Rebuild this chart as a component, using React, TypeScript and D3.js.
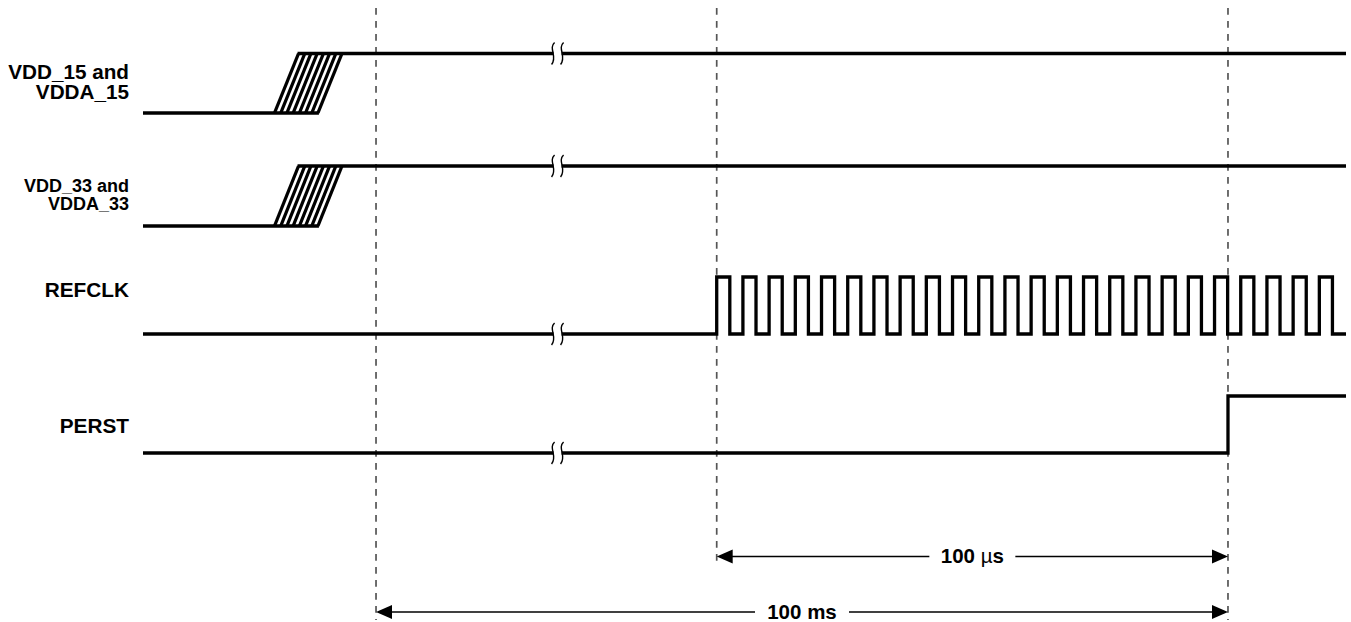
import React from 'react';
import * as d3 from 'd3';

// timing data (time axis in % of the drawing width)
const signalNames = ['VDD_15', 'VDD_33', 'REFCLK', 'PERST'];
const signalLabels = [['VDD_15 and', 'VDDA_15'], ['VDD_33 and', 'VDDA_33'], ['REFCLK'], ['PERST']];
const rampStripes = [10.93, 11.45, 11.96, 12.48, 13.0, 13.51, 14.03, 14.54];
const rampSlant = 2.0;
const markerTimes = [19.37, 47.69, 90.19];
const breakTime = 34.46;
const clockStart = 47.69;
const clockPeriod = 2.178;
const clockPulses = 24;
const perstRise = 90.19;
const spanFrom = [1, 0];
const spanTo = [2, 2];
const spanValues = ['100', '100'];
const spanUnits = ['µs', 'ms'];

const W = 1351;
const H = 622;
const FONT = "'Liberation Sans', Arial, Helvetica, sans-serif";

// layout per row: low level y, high level y, label baselines, font size
const rows = [
  { low: 113, high: 53.5, label: [78.5, 98.5], size: 20.7, breakOn: 'high' },
  { low: 226, high: 166, label: [191.5, 210], size: 18, breakOn: 'high' },
  { low: 334, high: 277, label: [296.5], size: 20.8, breakOn: 'low' },
  { low: 453, high: 396, label: [432.5], size: 20.8, breakOn: 'low' },
];
const markerBottoms = [620, 567, 620];
const spanY = [556.5, 612];

export default function App() {
  const x = d3.scaleLinear().domain([0, 100]).range([143, 1346]);
  const line = d3.line<[number, number]>();

  const levelY = (r: number) => d3.scaleLinear().domain([0, 1]).range([rows[r].low, rows[r].high]);

  const paths: { d: string; w: number }[] = [];

  // power rails with hatched ramps
  [0, 1].forEach((r) => {
    const y = levelY(r);
    const last = rampStripes[rampStripes.length - 1];
    paths.push({ d: line([[x(0), y(0)], [x(last) + 1, y(0)]])!, w: 3.3 });
    paths.push({ d: line([[x(rampStripes[0] + rampSlant) - 1, y(1)], [x(100), y(1)]])!, w: 3.3 });
    rampStripes.forEach((s) => {
      paths.push({ d: line([[x(s), y(0)], [x(s + rampSlant), y(1)]])!, w: 3.3 });
    });
  });

  // REFCLK
  {
    const y = levelY(2);
    const pts: [number, number][] = [[x(0), y(0)]];
    for (let i = 0; i < clockPulses; i++) {
      const t0 = clockStart + i * clockPeriod;
      const t1 = t0 + clockPeriod / 2;
      pts.push([x(t0), y(0)], [x(t0), y(1)], [x(t1), y(1)], [x(t1), y(0)]);
    }
    pts.push([x(100), y(0)]);
    paths.push({ d: line(pts)!, w: 3.3 });
  }

  // PERST
  {
    const y = levelY(3);
    paths.push({
      d: line([[x(0), y(0)], [x(perstRise), y(0)], [x(perstRise), y(1)], [x(100), y(1)]])!,
      w: 3.3,
    });
  }

  const bx = x(breakTime);
  const breakCurve = (cx: number, cy: number) =>
    `M${cx + 1.5},${cy - 11} C${cx - 5},${cy - 5} ${cx + 5},${cy + 3} ${cx - 1.5},${cy + 11}`;

  return (
    <svg width={W} height={H} style={{ position: 'absolute', left: 0, top: 0, background: '#fff' }}>
      <rect width={W} height={H} fill="#fff" />

      {markerTimes.map((t, i) => (
        <line key={'m' + i} x1={x(t)} x2={x(t)} y1={8} y2={markerBottoms[i]}
          stroke="#555" strokeWidth={1.7} strokeDasharray="6.7 6.3" />
      ))}

      {paths.map((p, i) => (
        <path key={'p' + i} d={p.d} fill="none" stroke="#000" strokeWidth={p.w} strokeLinejoin="miter" />
      ))}

      {rows.map((r, i) => {
        const cy = r.breakOn === 'high' ? r.high : r.low;
        return (
          <g key={'b' + i}>
            <rect x={bx - 4} y={cy - 3} width={8} height={6} fill="#fff" />
            <path d={breakCurve(bx - 4.5, cy)} fill="none" stroke="#000" strokeWidth={1.4} />
            <path d={breakCurve(bx + 4.5, cy)} fill="none" stroke="#000" strokeWidth={1.4} />
          </g>
        );
      })}

      {signalNames.map((n, i) => (
        <text key={n} textAnchor="end" fontFamily={FONT} fontWeight="bold" fontSize={rows[i].size} fill="#000">
          {signalLabels[i].map((l, j) => (
            <tspan key={j} x={129} y={rows[i].label[j]}>{l}</tspan>
          ))}
        </text>
      ))}

      {spanFrom.map((f, i) => {
        const x0 = x(markerTimes[f]);
        const x1 = x(markerTimes[spanTo[i]]);
        const y = spanY[i];
        const cx = (x0 + x1) / 2;
        const half = spanUnits[i] === 'µs' ? 43 : 47;
        return (
          <g key={'s' + i}>
            <line x1={x0 + 10} x2={cx - half} y1={y} y2={y} stroke="#000" strokeWidth={1.5} />
            <line x1={cx + half} x2={x1 - 10} y1={y} y2={y} stroke="#000" strokeWidth={1.5} />
            <path d={`M${x0},${y} L${x0 + 16},${y - 7} L${x0 + 16},${y + 7} Z`} fill="#000" />
            <path d={`M${x1},${y} L${x1 - 16},${y - 7} L${x1 - 16},${y + 7} Z`} fill="#000" />
            <text x={cx} y={y + 6.5} textAnchor="middle" fontFamily={FONT} fontWeight="bold" fontSize={20.5} fill="#000">
              {spanValues[i]}{' '}
              {spanUnits[i] === 'µs' ? (
                <>
                  <tspan fontWeight="normal">µ</tspan>s
                </>
              ) : (
                spanUnits[i]
              )}
            </text>
          </g>
        );
      })}
    </svg>
  );
}
